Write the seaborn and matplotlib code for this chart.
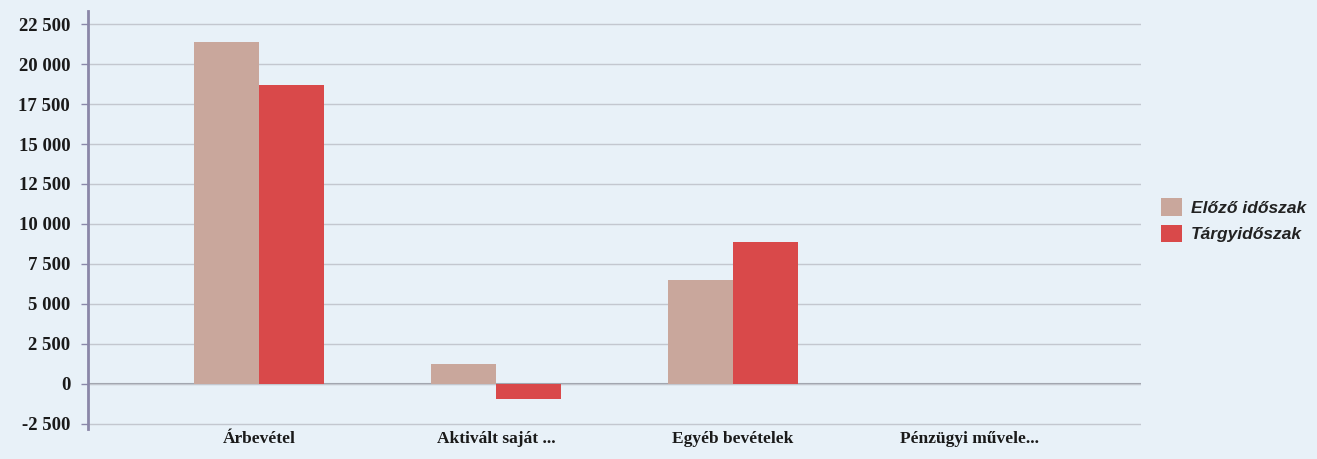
import numpy as np
import pandas as pd
import matplotlib
matplotlib.use("Agg")
import matplotlib.pyplot as plt
import seaborn as sns
from matplotlib.ticker import FuncFormatter

categories = ["Árbevétel", "Aktivált saját ...", "Egyéb bevételek", "Pénzügyi művele..."]
series_names = ["Előző időszak", "Tárgyidőszak"]
prev_values = [21400, 1200, 6500, 0]
curr_values = [18700, -950, 8850, 0]
yticks = [-2500, 0, 2500, 5000, 7500, 10000, 12500, 15000, 17500, 20000, 22500]

df = pd.DataFrame({
    "category": categories * 2,
    "series": [series_names[0]] * 4 + [series_names[1]] * 4,
    "value": prev_values + curr_values,
})

sns.set_theme(style="white")
bg = "#e8f1f8"
fig = plt.figure(figsize=(13.17, 4.59), dpi=100, facecolor=bg)
ax = fig.add_axes([0.067, 0.065, 0.799, 0.91])
ax.set_facecolor(bg)

palette = {series_names[0]: "#c9a79c", series_names[1]: "#d9494a"}
sns.barplot(data=df, x="category", y="value", hue="series", palette=palette,
            width=0.55, saturation=1, ax=ax, legend=True, edgecolor="none")

ax.set_xlim(-0.72, 3.72)
ax.set_ylim(-2850, 23300)
ax.set_yticks(yticks)
ax.yaxis.set_major_formatter(FuncFormatter(lambda v, p: f"{int(v):,}".replace(",", " ")))
ax.grid(axis="y", color="#c3c7cf", linewidth=1.0)
ax.set_axisbelow(True)
ax.axhline(0, color="#9a9ea8", linewidth=1.5, zorder=0.5)
for s in ["top", "right", "bottom"]:
    ax.spines[s].set_visible(False)
ax.spines["left"].set_color("#8a87a8")
ax.spines["left"].set_linewidth(2)
ax.tick_params(axis="y", length=5, color="#8a87a8", width=1, pad=8, left=True)
ax.tick_params(axis="x", length=0, pad=1)
for lab in ax.get_yticklabels():
    lab.set_fontfamily("Liberation Serif")
    lab.set_fontweight("bold")
    lab.set_fontsize(13.5)
    lab.set_color("#1a1a1a")
for lab in ax.get_xticklabels():
    lab.set_fontfamily("Liberation Serif")
    lab.set_fontweight("bold")
    lab.set_fontsize(12.5)
    lab.set_color("#1a1a1a")
ax.set_xlabel("")
ax.set_ylabel("")

leg = ax.legend(loc="center left", bbox_to_anchor=(1.005, 0.5), frameon=False,
                handlelength=1.2, handleheight=1.2, handletextpad=0.5,
                prop={"family": "Liberation Sans", "style": "italic", "weight": "bold", "size": 12.5},
                labelspacing=0.5)
for t in leg.get_texts():
    t.set_color("#222222")

fig.savefig("out.png", dpi=100, facecolor=bg)
